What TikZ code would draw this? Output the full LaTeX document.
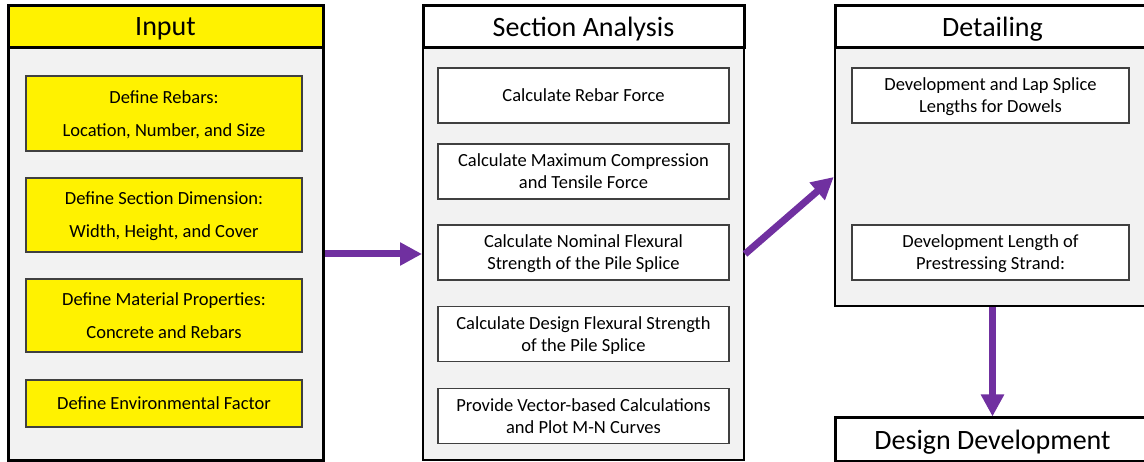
\documentclass[tikz,border=0pt]{standalone}
\usepackage{fontspec}
\setmainfont{Carlito}
\usetikzlibrary{arrows.meta}
\definecolor{flowpurple}{HTML}{7030A0}
\definecolor{panelgray}{HTML}{F2F2F2}
\begin{document}
\begin{tikzpicture}[x=1pt,y=-1pt,
  head/.style={draw,line width=3pt,minimum height=42pt,inner sep=0pt,text depth=0pt,font=\fontsize{28}{32}\selectfont},
  panel/.style={draw,fill=panelgray,inner sep=0pt},
  inbox/.style={draw=black!75,line width=1.2pt,fill=yellow,minimum width=276pt,inner sep=0pt,text depth=0pt,align=center,font=\fontsize{18.5}{33}\selectfont},
  calcbox/.style={draw=black!75,line width=1.2pt,fill=white,inner sep=0pt,text depth=0pt,align=center,font=\fontsize{18.5}{22}\selectfont},
  flow/.style={flowpurple,line width=7pt,-{Triangle[length=22pt,width=22pt]}}]
\useasboundingbox (0,0) rectangle (1144,462);
\clip (0,0) rectangle (1144,462);
% Input
\node[panel,line width=3pt,minimum width=315pt,minimum height=412pt] (inbody) at (165.5,254) {};
\node[head,fill=yellow,minimum width=315pt] (inhead) at (165.5,27) {Input};
\node[inbox,minimum height=75pt] (inrebar) at (164,113.5) {Define Rebars:\\Location, Number, and Size};
\node[inbox,minimum height=74pt] (insection) at (164,215) {Define Section Dimension:\\Width, Height, and Cover};
\node[inbox,minimum height=73pt] (inmaterial) at (164,315.5) {Define Material Properties:\\Concrete and Rebars};
\node[inbox,minimum height=47pt] (inenv) at (164,403.5) {Define Environmental Factor};
% Section Analysis
\node[panel,line width=2pt,minimum width=321pt,minimum height=412pt] (sabody) at (583.5,254) {};
\node[head,fill=white,minimum width=321pt] (sahead) at (583.5,27) {Section Analysis};
\node[calcbox,minimum width=291pt,minimum height=55pt] (saforce) at (583.5,95.5) {Calculate Rebar Force};
\node[calcbox,minimum width=291pt,minimum height=55pt] (samax) at (583.5,171.5) {Calculate Maximum Compression\\and Tensile Force};
\node[calcbox,minimum width=291pt,minimum height=55pt] (sanominal) at (583.5,252.5) {Calculate Nominal Flexural\\Strength of the Pile Splice};
\node[calcbox,minimum width=291pt,minimum height=55pt] (sadesign) at (583.5,334) {Calculate Design Flexural Strength\\of the Pile Splice};
\node[calcbox,minimum width=291pt,minimum height=55pt] (savector) at (583.5,416) {Provide Vector-based Calculations\\and Plot M-N Curves};
% Detailing
\node[panel,line width=2.5pt,minimum width=315pt,minimum height=258pt] (detbody) at (992.5,177) {};
\node[head,fill=white,minimum width=315pt] (dethead) at (992.5,27) {Detailing};
\node[calcbox,minimum width=277pt,minimum height=55pt] (detlap) at (990.5,95.5) {Development and Lap Splice\\Lengths for Dowels};
\node[calcbox,minimum width=277pt,minimum height=55pt] (detstrand) at (990.5,252.5) {Development Length of\\Prestressing Strand:};
\node[head,fill=white,minimum width=315pt,minimum height=43pt] (ddbox) at (992.5,439.5) {Design Development};
% flow arrows
\draw[flow] (inbody.east) -- (sabody.west);
\draw[flow] (sabody.east) -- (detbody.west);
\draw[flow] (detbody.south) -- (ddbox.north);
\end{tikzpicture}
\end{document}
